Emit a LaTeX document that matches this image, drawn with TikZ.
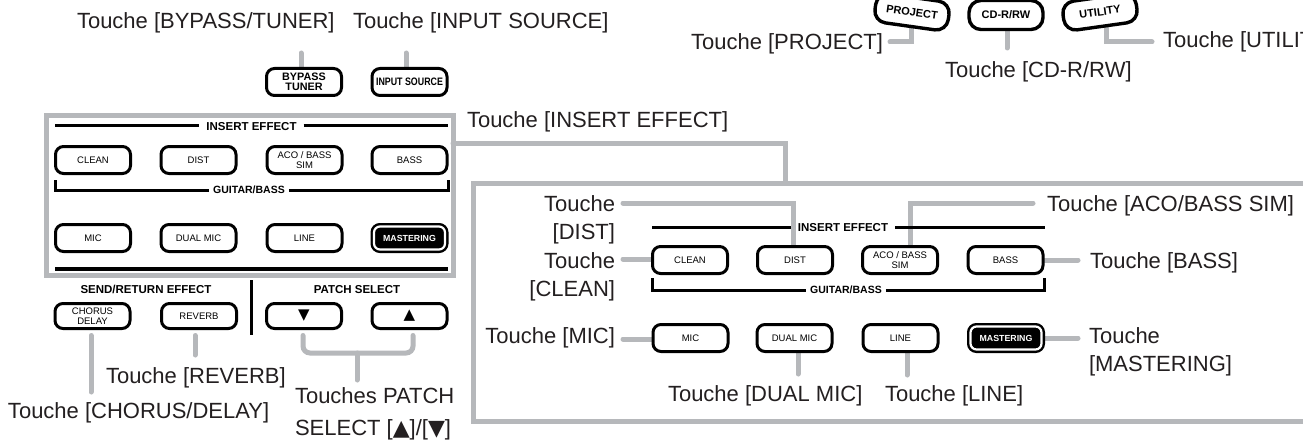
\documentclass[tikz,border=0pt]{standalone}
\usepackage{fontspec}
\setmainfont{Liberation Sans}
\newfontfamily\narrowfont{Liberation Sans}[FakeStretch=0.82]
\newfontfamily\symfont{DejaVu Sans}
\usetikzlibrary{calc}
\pgfdeclarelayer{back}
\pgfdeclarelayer{bg}
\pgfsetlayers{back,bg,main}
\definecolor{conngray}{RGB}{182,184,187}
\definecolor{txt}{RGB}{35,31,32}
\newcommand{\lblfont}{\fontsize{22}{28}\selectfont}
\tikzset{
  conn/.style={draw=conngray, line width=5, line cap=round},
  graybox/.style={draw=conngray, line width=5, inner sep=0, outer sep=0},
  btn/.style={draw=black, line width=3, rounded corners=8, fill=white, minimum width=75, minimum height=27, inner sep=0, outer sep=0, align=center, font=\fontsize{9.5}{11.5}\selectfont},
  topbtn/.style={btn, line width=3.4, rounded corners=12, minimum width=74, minimum height=29, font=\bfseries\fontsize{11}{12}\selectfont},
  mast/.style={draw=black, double=white, line width=2.4, double distance=2.2, fill=black, rounded corners=6, minimum width=71, minimum height=23, inner sep=0, outer sep=0, text=white, font=\bfseries\fontsize{8.8}{10}\selectfont},
  lbl/.style={inner sep=0, outer sep=0, text=txt, font=\lblfont},
  hdr/.style={inner xsep=7, inner ysep=0, text height=8.3, text depth=0, font=\bfseries\fontsize{11.5}{13}\selectfont},
  hdrs/.style={hdr, inner xsep=4, text height=7.6, font=\bfseries\fontsize{10.5}{12}\selectfont},
  hline/.style={draw=black, line width=3},
}
\begin{document}
\begin{tikzpicture}[x=1pt, y=-1pt]
\path[use as bounding box] (0,0) rectangle (1303,441);
\begin{pgfonlayer}{back}
\fill[white] (0,0) rectangle (1303,441);
\end{pgfonlayer}
\clip (0,0) rectangle (1303,441);

% ---------- boxes ----------
\node[graybox, minimum width=407, minimum height=159] (lbox) at (249.5,195.5) {};
\node[graybox, minimum width=850, minimum height=238] (rbox) at (898,302) {};

% ---------- top left ----------
\node[lbl, anchor=base west] (lbyp) at (77,29) {Touche [BYPASS/TUNER]};
\node[lbl, anchor=base west] (linp) at (353,29) {Touche [INPUT SOURCE]};
\node[btn, font=\bfseries\fontsize{10.8}{10.5}\selectfont] (byp) at (304,82) {BYPASS\\TUNER};
\node[btn, font=\narrowfont\bfseries\fontsize{10.8}{12}\selectfont] (inp) at (409.5,82) {INPUT SOURCE};

% ---------- top right ----------
\node[topbtn, rotate=-8] (proj) at (912,12) {PROJECT};
\node[topbtn] (cdrw) at (1006,15) {CD-R/RW};
\node[topbtn, rotate=8] (util) at (1100,12) {UTILITY};
\node[lbl, anchor=base east] (lproj) at (883,50) {Touche [PROJECT]};
\node[lbl, anchor=base west] (lcd) at (945,78) {Touche [CD-R/RW]};
\node[lbl, anchor=base west] (lutil) at (1163,48) {Touche [UTILITY]};

% ---------- left panel ----------
\node[hdr] (lhie) at (251.5,126) {INSERT EFFECT};
\draw[hline] (55,126) -- (lhie.west);
\draw[hline] (lhie.east) -- (448,126);
\node[btn] (lclean) at (93,160) {CLEAN};
\node[btn] (ldist) at (198.5,160) {DIST};
\node[btn, font=\fontsize{9.5}{10.5}\selectfont] (laco) at (304.5,160) {ACO / BASS\\SIM};
\node[btn] (lbass) at (409.5,160) {BASS};
\node[hdrs] (lgb) at (249,190) {GUITAR/BASS};
\draw[hline] (55,180) -- (55,190) -- (lgb.west);
\draw[hline] (lgb.east) -- (448,190) -- (448,180);
\node[btn] (lmic) at (93,238) {MIC};
\node[btn] (ldual) at (198.5,238) {DUAL MIC};
\node[btn] (lline) at (304.5,238) {LINE};
\node[mast] (lmast) at (409.5,238) {MASTERING};
\draw[draw=black, line width=4.5] (55,269) -- (448,269);

\node[hdr] (lsr) at (146,289) {SEND/RETURN EFFECT};
\node[hdr] (lps) at (357,289) {PATCH SELECT};
\draw[draw=black, line width=3] (251,280) -- (251,335);
\node[btn, minimum height=25, font=\fontsize{9.5}{10.5}\selectfont] (lchorus) at (92.5,316) {CHORUS\\DELAY};
\node[btn, minimum height=25] (lrev) at (199,316) {REVERB};
\node[btn, minimum height=25, font=\symfont\fontsize{15}{15}\selectfont] (pdown) at (304,316) {▼};
\node[btn, minimum height=25, font=\symfont\fontsize{15}{15}\selectfont] (pup) at (409.5,316) {▲};

\node[lbl, anchor=base west] (lrevl) at (106,383) {Touche [REVERB]};
\node[lbl, anchor=base west] (lchl) at (8,418) {Touche [CHORUS/DELAY]};
\node[lbl, anchor=base west, font=\fontsize{22}{32}\selectfont] (lpsl) at (295,403) {\begin{tabular}[t]{@{}l@{}}Touches PATCH\\SELECT [{\symfont ▲}]/[{\symfont ▼}]\end{tabular}};

% ---------- right panel ----------
\node[lbl, anchor=base west] (lie) at (467,128) {Touche [INSERT EFFECT]};
\node[hdr] (rhie) at (843,227) {INSERT EFFECT};
\draw[hline] (652,227) -- (rhie.west);
\draw[hline] (rhie.east) -- (1045,227);
\node[btn] (rclean) at (690,260) {CLEAN};
\node[btn] (rdist) at (795,260) {DIST};
\node[btn, font=\fontsize{9.5}{10.5}\selectfont] (raco) at (900,260) {ACO / BASS\\SIM};
\node[btn] (rbass) at (1005.5,260) {BASS};
\node[hdrs] (rgb) at (846,290) {GUITAR/BASS};
\draw[hline] (652,278) -- (652,290) -- (rgb.west);
\draw[hline] (rgb.east) -- (1044,290) -- (1044,278);
\node[btn] (rmic) at (690.5,338) {MIC};
\node[btn] (rdual) at (794.5,338) {DUAL MIC};
\node[btn] (rline) at (900.5,338) {LINE};
\node[mast] (rmast) at (1006,338) {MASTERING};

\node[lbl, anchor=base east] (lds) at (615,211) {\begin{tabular}[t]{@{}r@{}}Touche\\\relax[DIST]\end{tabular}};
\node[lbl, anchor=base east] (lcl) at (615,268) {\begin{tabular}[t]{@{}r@{}}Touche\\\relax[CLEAN]\end{tabular}};
\node[lbl, anchor=base west] (lacol) at (1047,211) {Touche [ACO/BASS SIM]};
\node[lbl, anchor=base west] (lbs) at (1090,268) {Touche [BASS]};
\node[lbl, anchor=base east] (lmc) at (615,343) {Touche [MIC]};
\node[lbl, anchor=base west] (lms) at (1089,343) {\begin{tabular}[t]{@{}l@{}}Touche\\\relax[MASTERING]\end{tabular}};
\node[lbl, anchor=base west] (ldm) at (668,401) {Touche [DUAL MIC]};
\node[lbl, anchor=base west] (lln) at (885,401) {Touche [LINE]};

% ---------- connectors ----------
\begin{pgfonlayer}{bg}
\coordinate (cbyp) at (301,53);
\draw[conn] (cbyp) -- (cbyp |- byp.north);
\coordinate (cinp) at (406,53);
\draw[conn] (cinp) -- (cinp |- inp.north);
\coordinate (cproj) at (890,42);
\draw[conn] (cproj) -| ($(proj.south)+(2,0)$);
\coordinate (ccd) at (1007,48);
\draw[conn] (ccd |- cdrw.south) -- (ccd);
\coordinate (cutil) at (1152,42);
\draw[conn] (cutil) -| ($(util.south)+(4,0)$);
\coordinate (cie) at (785,143);
\draw[conn] (lbox.east |- cie) -- (cie) -- (cie |- rbox.north);
\coordinate (cch) at (91,392);
\draw[conn] (cch |- lchorus.south) ++(0,7) -- (cch);
\coordinate (crev) at (195,355);
\draw[conn] (crev |- lrev.south) ++(0,7) -- (crev);
\coordinate (cpb) at (357,353);
\coordinate (cpe) at (357,380);
\draw[conn, rounded corners=7] ($(pdown.south)+(-1,7)$) |- (cpb) -| ($(pup.south)+(3.5,7)$);
\draw[conn] (cpb) -- (cpe);
\coordinate (cds) at (623,203);
\draw[conn] (cds) -| ($(rdist.north)+(-2,2)$);
\coordinate (ccl) at (623,259);
\draw[conn] (ccl) -- (rclean.west |- ccl);
\coordinate (caco) at (1033,203);
\draw[conn] (caco) -| ($(raco.north)+(10,-2)$);
\coordinate (cbs) at (1078,260);
\draw[conn] (rbass.east |- cbs) -- (cbs);
\coordinate (cmc) at (623,339);
\draw[conn] (cmc) -- (rmic.west |- cmc);
\coordinate (cdm) at (798,374);
\draw[conn] (cdm |- rdual.south) -- (cdm);
\coordinate (cln) at (907,375);
\draw[conn] (cln |- rline.south) -- (cln);
\coordinate (cms) at (1078,338);
\draw[conn] (rmast.east |- cms) -- (cms);
\end{pgfonlayer}
\end{tikzpicture}
\end{document}
